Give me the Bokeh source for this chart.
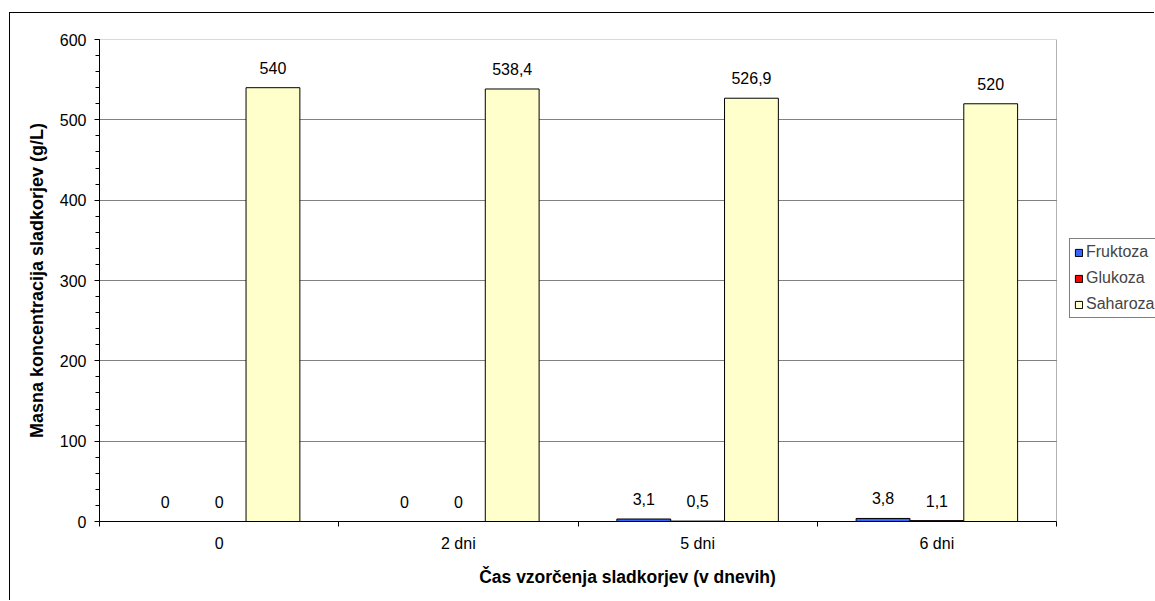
from bokeh.plotting import figure
from bokeh.models import (Range1d, FixedTicker, SingleIntervalTicker, ColumnDataSource,
                          BoxAnnotation, Legend, LegendItem)
from bokeh.core.properties import value
from bokeh.embed import file_html
from bokeh.resources import INLINE

categories = ["0", "2 dni", "5 dni", "6 dni"]
fruktoza = [0, 0, 3.1, 3.8]
glukoza = [0, 0, 0.5, 1.1]
saharoza = [540, 538.4, 526.9, 520]
series_names = ["Fruktoza", "Glukoza", "Saharoza"]
series_colors = ["#3366FF", "#FF0000", "#FFFFCC"]

FONT = "Liberation Sans"
LBL = "16px"

# canvas sits inside an outer chart border (9px / 12px from the page corner)
CANVAS_W, CANVAS_H = 1145, 588
LEFT, TOP, BOTTOM = 89, 26, 80
PLOT_W = 957                       # width of the plotted area (4 categories)
FRAME_W = CANVAS_W - LEFT          # frame runs to the canvas edge (legend lives there)
n = len(categories)
x_end = n * FRAME_W / PLOT_W

p = figure(width=CANVAS_W, height=CANVAS_H, output_backend="svg", toolbar_location=None,
           x_range=Range1d(0, x_end), y_range=Range1d(0, 600),
           min_border_left=LEFT, min_border_right=0, min_border_top=TOP,
           min_border_bottom=BOTTOM)
p.styles = {"margin-left": "9px", "margin-top": "12px",
            "border-left": "1px solid #000000", "border-top": "1px solid #000000"}
p.background_fill_color = "white"
p.border_fill_color = "white"
p.outline_line_color = None

centers = [i + 0.5 for i in range(n)]
bounds = [i for i in range(n + 1)]
p.xaxis.ticker = FixedTicker(ticks=centers, minor_ticks=bounds)
p.xaxis.bounds = (0, n)
p.xaxis.major_label_overrides = {c: lab for c, lab in zip(centers, categories)}
p.xaxis.major_tick_out = 0
p.xaxis.major_tick_in = 0
p.xaxis.minor_tick_out = 5
p.xaxis.minor_tick_in = 0
p.xaxis.major_label_standoff = 8
p.xaxis.axis_label = "Čas vzorčenja sladkorjev (v dnevih)"
p.xaxis.axis_label_standoff = 12
p.xaxis.axis_label_text_font_size = "17.5px"

p.yaxis.ticker = SingleIntervalTicker(interval=100, num_minor_ticks=5)
p.yaxis.major_tick_out = 5
p.yaxis.major_tick_in = 0
p.yaxis.minor_tick_out = 4
p.yaxis.minor_tick_in = 0
p.yaxis.major_label_standoff = 8
p.yaxis.axis_label = "Masna koncentracija sladkorjev (g/L)"
p.yaxis.axis_label_standoff = 10
p.yaxis.axis_label_text_font_size = "18px"

for ax in (p.xaxis, p.yaxis):
    ax.axis_line_color = "black"
    ax.major_tick_line_color = "black"
    ax.minor_tick_line_color = "black"
    ax.major_label_text_font = FONT
    ax.major_label_text_font_size = LBL
    ax.major_label_text_color = "black"
    ax.axis_label_text_font = FONT
    ax.axis_label_text_font_style = "bold"
    ax.axis_label_text_color = "black"

p.xgrid.grid_line_color = None
p.ygrid.grid_line_color = "#808080"
p.ygrid.grid_line_width = 1
p.ygrid.cross_bounds = (0, n)

# plot-area border
p.add_layout(BoxAnnotation(left=0, right=n, bottom=0, top=600, fill_color=None,
                           line_color="black", line_width=1, level="underlay"))

bar_w = 0.225
offsets = [-bar_w, 0.0, bar_w]
all_series = [fruktoza, glukoza, saharoza]
items = []
for name, col, vals, off in zip(series_names, series_colors, all_series, offsets):
    xs = [c + off for c in centers]
    src = ColumnDataSource(dict(x=xs, top=vals,
                                lab=[("%g" % v).replace(".", ",") for v in vals]))
    r = p.vbar(x="x", top="top", width=bar_w, bottom=0, source=src,
               fill_color=col, line_color="black", line_width=1)
    p.text(x="x", y="top", text="lab", source=src, text_align="center",
           text_baseline="alphabetic", y_offset=-20, text_font=value(FONT),
           text_font_size=LBL, text_color="black")
    items.append(LegendItem(label=name, renderers=[r]))

legend = Legend(items=items, location=(970, 203), margin=0,
                label_text_font=FONT, label_text_font_size=LBL,
                glyph_width=9, glyph_height=9, label_height=18, spacing=8,
                padding=4, label_standoff=3,
                border_line_color="black", border_line_width=1,
                background_fill_color="white", background_fill_alpha=1)
p.add_layout(legend, "center")

open("out.html", "w").write(file_html(p, INLINE))
